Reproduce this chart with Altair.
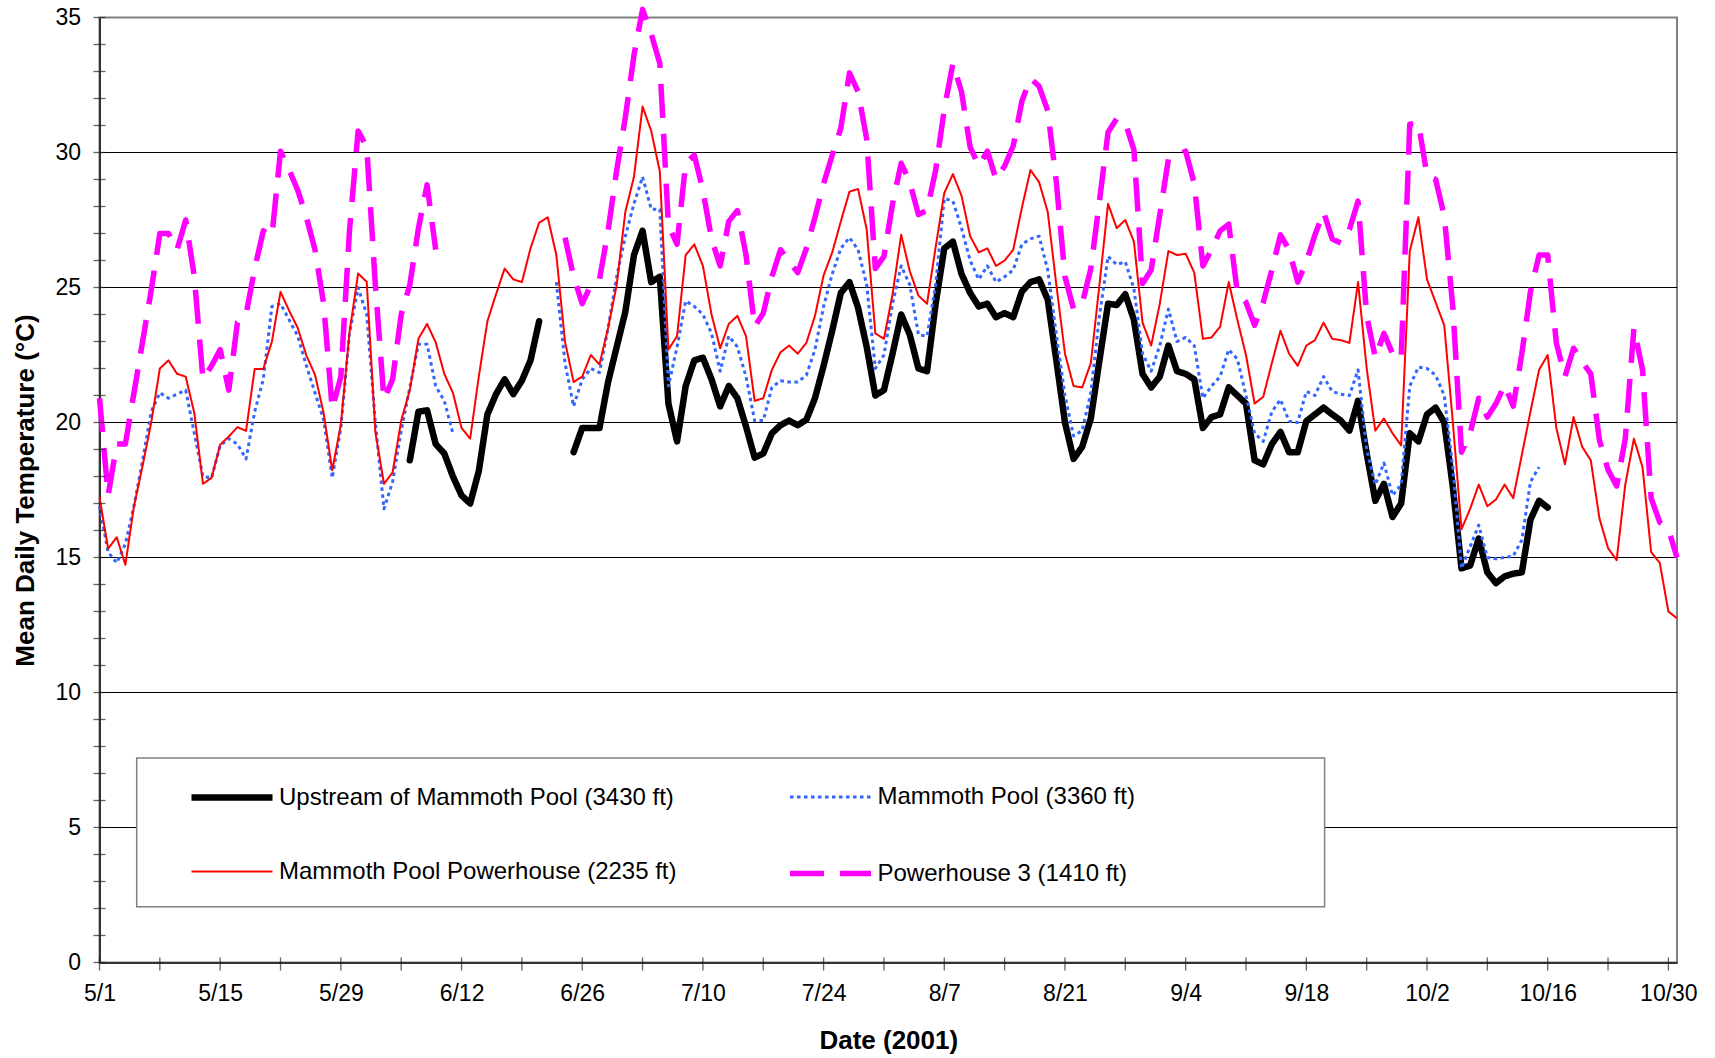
import json
import altair as alt
import pandas as pd

# ---------------- data (day index 0 = 5/1/2001) ----------------
SERIES = [
    "Upstream of Mammoth Pool (3430 ft)",
    "Mammoth Pool (3360 ft)",
    "Mammoth Pool Powerhouse (2235 ft)",
    "Powerhouse 3 (1410 ft)",
]
# legend fills column by column, so list it column-wise to read row-wise
LEGEND_ORDER = [SERIES[0], SERIES[2], SERIES[1], SERIES[3]]
COLORS = {SERIES[0]: "#000000", SERIES[1]: "#3366FF",
          SERIES[2]: "#FF0000", SERIES[3]: "#FF00FF"}
DASHES = {SERIES[0]: [1, 0], SERIES[1]: [3.5, 3.5],
          SERIES[2]: [1, 0], SERIES[3]: [34, 16]}
WIDTHS = {SERIES[0]: 6.5, SERIES[1]: 3, SERIES[2]: 2, SERIES[3]: 5.5}

X_TICK_DAYS = list(range(0, 183, 14))
X_TICK_LABELS = ["5/1", "5/15", "5/29", "6/12", "6/26", "7/10", "7/24", "8/7",
                 "8/21", "9/4", "9/18", "10/2", "10/16", "10/30"]
X_MINOR_DAYS = list(range(0, 183, 7))
Y_LABEL_VALUES = [0, 5, 10, 15, 20, 25, 30, 35]
Y_MINOR_VALUES = list(range(0, 36))
Y_GRID = [5, 10, 15, 20, 25, 30]

# Upstream of Mammoth Pool
UP1_START = 36
UP1 = [18.6, 20.4, 20.45, 19.2, 18.85, 18.0, 17.3, 17.0, 18.2, 20.3, 21.05, 21.6,
       21.05, 21.55, 22.3, 23.75]
UP2_START = 55
UP2 = [18.9, 19.8, 19.8, 19.8, 21.5, 22.8, 24.1, 26.2, 27.1, 25.2,
       25.4, 20.7, 19.3, 21.35, 22.3, 22.4, 21.6, 20.6, 21.35, 20.9,
       19.85, 18.7, 18.85, 19.6, 19.9, 20.07, 19.9, 20.1, 20.9, 22.1,
       23.4, 24.8, 25.2, 24.25, 22.8, 21.0, 21.2, 22.55, 24.0, 23.25,
       22.0, 21.9, 24.4, 26.45, 26.7, 25.5, 24.8, 24.3, 24.4, 23.9,
       24.05, 23.9, 24.85, 25.2, 25.3, 24.55, 22.3, 20.0, 18.65, 19.1,
       20.15, 22.3, 24.4, 24.35, 24.75, 23.8, 21.8, 21.3, 21.7, 22.85,
       21.9, 21.8, 21.6, 19.8, 20.2, 20.3, 21.3, 21.0, 20.7, 18.6,
       18.45, 19.2, 19.65, 18.9, 18.9, 20.05, 20.3, 20.55, 20.3, 20.07,
       19.7, 20.8, 18.85, 17.1, 17.73, 16.5, 17.0, 19.6, 19.3, 20.3,
       20.55, 20.0, 17.6, 14.6, 14.7, 15.7, 14.45, 14.05, 14.3, 14.4,
       14.45, 16.4, 17.1, 16.85]

# Mammoth Pool
MP1_START = 0
MP1 = [16.9, 15.2, 14.8, 15.5, 16.9, 18.6, 20.4, 21.1, 20.9, 21.05,
       21.2, 19.6, 18.0, 17.95, 19.15, 19.4, 19.2, 18.65, 20.4, 21.6,
       24.3, 24.4, 23.8, 23.2, 22.1, 21.1, 20.1, 17.95, 19.8, 23.3,
       25.0, 24.0, 20.0, 16.8, 17.8, 19.7, 21.3, 22.9, 22.9, 21.35,
       20.8, 19.6]
MP2_START = 53
MP2 = [25.2, 22.2, 20.6, 21.6, 22.0, 21.85, 23.5, 25.4, 26.9, 28.1,
       29.1, 27.9, 27.9, 21.35, 22.8, 24.5, 24.3, 24.0, 23.3, 21.9,
       23.2, 22.8, 21.7, 20.07, 20.07, 21.3, 21.55, 21.5, 21.5, 21.75,
       22.7, 24.3, 25.5, 26.45, 26.85, 26.4, 25.1, 22.0, 22.5, 24.4,
       25.8, 25.1, 23.25, 23.2, 25.1, 28.3, 28.2, 27.2, 26.0, 25.3,
       25.8, 25.2, 25.4, 25.65, 26.6, 26.8, 26.9, 25.65, 23.25, 21.0,
       19.5, 19.7, 21.1, 23.95, 26.15, 25.85, 25.95, 24.95, 22.55, 21.9,
       22.85, 24.2, 23.0, 23.15, 22.85, 20.9, 21.35, 21.7, 22.7, 22.35,
       21.0, 19.6, 19.3, 20.4, 20.85, 20.05, 20.0, 21.15, 21.0, 21.7,
       21.15, 21.05, 21.0, 21.95, 19.0, 17.7, 18.5, 17.3, 17.7, 21.35,
       22.05, 22.0, 21.75, 21.0, 18.3, 14.6, 15.4, 16.2, 15.0, 14.95,
       15.0, 15.05, 15.65, 17.8, 18.35]

# Mammoth Pool Powerhouse
MPP_START = 0
MPP = [17.24, 15.33, 15.75, 14.73, 16.9, 18.4, 20.0, 22.0, 22.3, 21.8,
       21.7, 20.35, 17.73, 17.95, 19.18, 19.48, 19.83, 19.69, 21.98, 21.98,
       23.0, 24.84, 24.14, 23.5, 22.48, 21.77, 20.35, 18.23, 19.93, 23.33,
       25.52, 25.21, 19.65, 17.73, 18.15, 20.07, 21.2, 23.1, 23.65, 22.97,
       21.8, 21.1, 19.8, 19.4, 21.7, 23.75, 24.75, 25.7, 25.3, 25.2,
       26.45, 27.4, 27.6, 26.2, 23.0, 21.5, 21.7, 22.5, 22.15, 23.5,
       25.1, 27.8, 29.1, 31.7, 30.8, 29.3, 22.7, 23.2, 26.2, 26.6,
       25.8, 24.0, 22.75, 23.65, 23.95, 23.2, 20.8, 20.9, 21.95, 22.6,
       22.85, 22.55, 22.95, 23.95, 25.45, 26.3, 27.45, 28.55, 28.65, 27.15,
       23.3, 23.1, 24.75, 26.95, 25.6, 24.7, 24.4, 26.5, 28.5, 29.2,
       28.4, 26.9, 26.3, 26.45, 25.8, 26.0, 26.4, 27.95, 29.35, 28.9,
       27.8, 25.1, 22.55, 21.35, 21.3, 22.2, 25.1, 28.1, 27.2, 27.5,
       26.7, 23.7, 22.85, 24.4, 26.35, 26.2, 26.25, 25.55, 23.1, 23.15,
       23.55, 25.2, 23.8, 22.5, 20.7, 20.95, 22.2, 23.4, 22.55, 22.1,
       22.85, 23.05, 23.7, 23.1, 23.05, 22.95, 25.2, 22.0, 19.7, 20.15,
       19.6, 19.15, 26.35, 27.6, 25.3, 24.45, 23.6, 20.0, 16.05, 16.8,
       17.7, 16.9, 17.15, 17.7, 17.2, 18.8, 20.4, 21.95, 22.5, 19.8,
       18.45, 20.2, 19.1, 18.6, 16.45, 15.35, 14.9, 17.7, 19.4, 18.35,
       15.2, 14.8, 13.0, 12.75]

# Powerhouse 3
PH1_START = 0
PH1 = [20.9, 17.3, 19.2, 19.2, 21.1, 23.0, 24.9, 27.0, 27.0, 26.4,
       27.5, 25.4, 21.6, 22.1, 22.7, 21.2, 23.7, 24.0, 25.7, 27.1,
       26.9, 30.05, 29.35, 28.6, 27.6, 26.4, 24.4, 20.5, 21.7, 27.1,
       30.8, 30.2, 25.1, 20.85, 21.6, 24.0, 25.1, 27.2, 28.8, 26.4]
PH2_START = 54
PH2 = [26.85, 25.4, 24.4, 25.1, 25.3, 27.1, 29.35, 31.3, 33.6, 35.3,
       34.4, 33.3, 27.3, 26.6, 29.6, 29.9, 28.6, 26.8, 25.8, 27.45,
       27.85, 26.2, 23.55, 24.05, 25.4, 26.4, 25.95, 25.55, 26.45, 27.6,
       28.85, 29.9, 30.9, 32.95, 32.25, 30.5, 25.7, 26.15, 28.1, 29.6,
       28.9, 27.7, 27.85, 29.35, 31.6, 33.3, 32.25, 30.2, 29.5, 30.05,
       29.0, 29.5, 30.25, 31.9, 32.75, 32.45, 31.55, 28.9, 25.4, 24.2,
       24.4, 25.7, 28.2, 30.75, 31.25, 31.1, 30.1, 25.15, 25.65, 27.7,
       29.75, 29.85, 30.05, 28.85, 25.8, 26.4, 27.1, 27.35, 24.8, 24.45,
       23.6, 24.45, 25.65, 26.95, 26.4, 25.2, 25.95, 26.95, 27.8, 26.8,
       26.65, 27.15, 28.2, 23.95, 22.4, 23.3, 22.55, 22.35, 31.05, 31.1,
       29.15, 29.0, 27.65, 24.25, 18.9, 19.6, 20.9, 20.2, 20.7, 21.4,
       20.6, 22.55, 24.85, 26.2, 26.2, 22.95, 21.7, 22.75, 22.25, 21.8,
       19.35, 18.25, 17.65, 19.4, 23.5, 21.95, 17.2, 16.3, 16.05, 15.0]

RUNS = [
    (SERIES[0], UP1_START, UP1), (SERIES[0], UP2_START, UP2),
    (SERIES[1], MP1_START, MP1), (SERIES[1], MP2_START, MP2),
    (SERIES[2], MPP_START, MPP),
    (SERIES[3], PH1_START, PH1), (SERIES[3], PH2_START, PH2),
]

rows = []
for name, start, vals in RUNS:
    for i, v in enumerate(vals):
        rows.append({"day": start + i, "temp": v, "series": name,
                     "seg": f"{name}-{start}"})
df = pd.DataFrame(rows)

# ---------------- layout constants ----------------
W, H = 1577.5, 945
FONT = "Liberation Sans"

xscale = alt.Scale(domain=[0, 183], nice=False, zero=False)
yscale = alt.Scale(domain=[0, 35], nice=False)

xaxis = alt.Axis(
    values=X_TICK_DAYS,
    labelExpr=f"{json.dumps(X_TICK_LABELS)}[round(datum.value / 14)]",
    ticks=False, tickSize=0, grid=False, labelFlush=False,
    labelPadding=20, labelFont=FONT, labelFontSize=23, labelColor="black",
    domainColor="#333333", domainWidth=2,
    title="Date (2001)", titleFont=FONT, titleFontSize=26, titleFontWeight="bold",
    titleColor="black", titleX=W / 2, titleY=78, titleBaseline="middle",
    titleAlign="center",
)
yaxis = alt.Axis(
    values=Y_LABEL_VALUES,
    ticks=False, tickSize=0, grid=False, labelFlush=False,
    labelPadding=19, labelFont=FONT, labelFontSize=23, labelColor="black",
    domainColor="#333333", domainWidth=2,
    title="Mean Daily Temperature (°C)", titleFont=FONT, titleFontSize=26,
    titleFontWeight="bold", titleColor="black", titleAngle=-90,
    titleX=-74.5, titleY=H / 2, titleBaseline="middle", titleAlign="center",
)

X = alt.X("day:Q", scale=xscale, axis=xaxis)
Y = alt.Y("temp:Q", scale=yscale, axis=yaxis)

color = alt.Color("series:N",
                  scale=alt.Scale(domain=LEGEND_ORDER,
                                  range=[COLORS[s] for s in LEGEND_ORDER]),
                  legend=alt.Legend(title=None))
dash = alt.StrokeDash("series:N",
                      scale=alt.Scale(domain=LEGEND_ORDER,
                                      range=[DASHES[s] for s in LEGEND_ORDER]),
                      legend=alt.Legend(title=None))
width = alt.StrokeWidth("series:N",
                        scale=alt.Scale(type="ordinal", domain=LEGEND_ORDER,
                                        range=[WIDTHS[s] for s in LEGEND_ORDER]),
                        legend=alt.Legend(title=None))

# gridlines
grid = alt.Chart(pd.DataFrame({"temp": Y_GRID})).mark_rule(
    color="black", strokeWidth=1
).encode(y=Y)

# legend box
box = alt.Chart(pd.DataFrame({"k": [0]})).mark_rect(
    fill="white", stroke="#808080", strokeWidth=1.5
).encode(x=alt.value(37.2), x2=alt.value(1225.1),
         y=alt.value(740.5), y2=alt.value(889.3))

line_layers = []
for name in SERIES:  # draw order: black, blue, red, magenta
    props = dict(strokeJoin="round")
    if name == SERIES[0]:
        props["strokeCap"] = "round"
    line_layers.append(
        alt.Chart(df).transform_filter(alt.datum.series == name)
        .mark_line(**props)
        .encode(x=X, y=Y, color=color, strokeDash=dash, strokeWidth=width,
                detail="seg:N", order="day:Q")
    )

yticks = alt.Chart(pd.DataFrame({"temp": Y_MINOR_VALUES})).mark_tick(
    orient="horizontal", size=12, thickness=1.3, color="#222222"
).encode(y=Y, x=alt.value(0))

xticks = alt.Chart(pd.DataFrame({"day": X_MINOR_DAYS})).mark_tick(
    orient="vertical", size=13, thickness=1.3, color="#222222"
).encode(x=X, y=alt.value(H + 1.5))

chart = alt.layer(grid, box, *line_layers, yticks, xticks).properties(
    width=W, height=H,
    autosize=alt.AutoSizeParams(type="none"),
    padding={"left": 99.5, "top": 17.5, "right": 38, "bottom": 95.5},
    background="white",
).configure_view(
    stroke="#808080", strokeWidth=2
).configure_legend(
    orient="none", legendX=88.5, legendY=736, columns=2, columnPadding=101.5,
    rowPadding=19.6, padding=0, labelFont=FONT, labelFontSize=24,
    labelColor="black", labelOffset=3, labelLimit=1000, symbolSize=6561,
    symbolType="stroke",
)

chart.save("out.html", embed_options={"renderer": "svg", "actions": False})
